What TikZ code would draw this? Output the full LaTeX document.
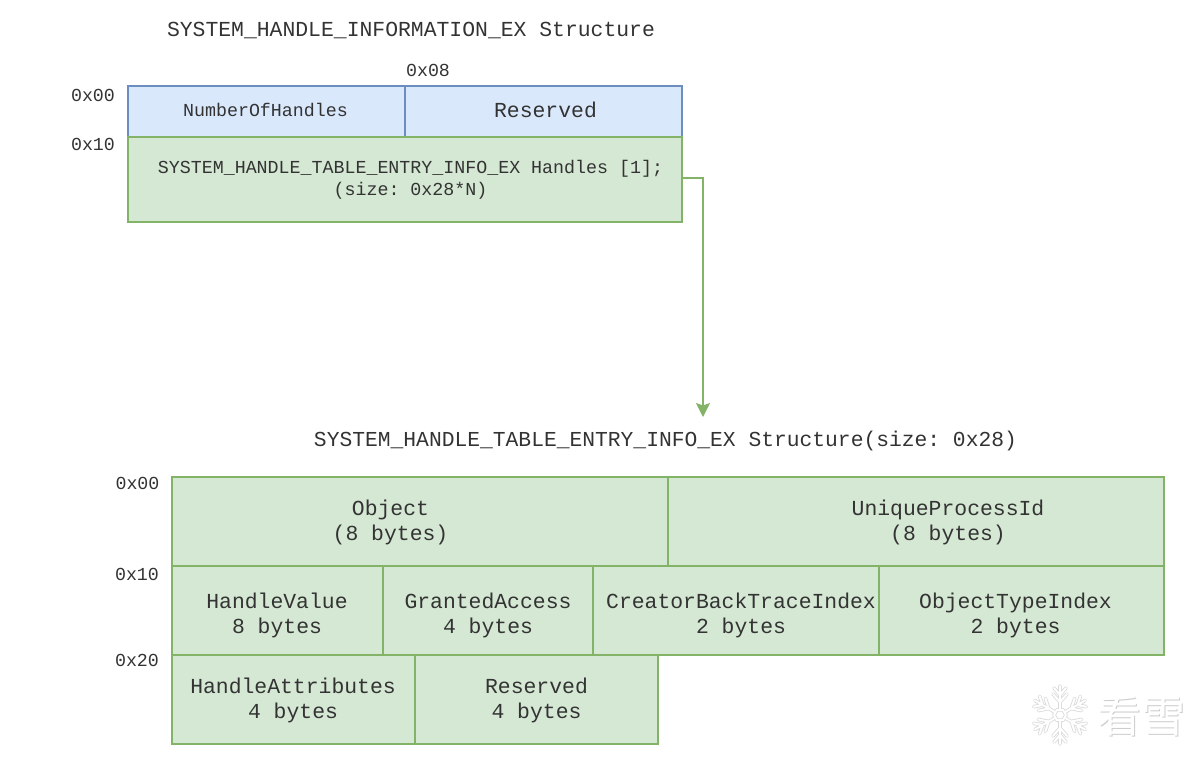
\documentclass[tikz,border=0pt]{standalone}
\usepackage{fontspec}
\setmonofont{Liberation Mono}
\newfontfamily\cjk{Noto Sans CJK SC}
\usetikzlibrary{arrows.meta, calc}

\begin{document}
\begin{tikzpicture}[x=1pt,y=-1pt,
  bigtxt/.style={font=\ttfamily\fontsize{21.4}{25}\selectfont,text=black!80},
  smalltxt/.style={font=\ttfamily\fontsize{18.3}{22}\selectfont,text=black!80},
  offset/.style={smalltxt,inner sep=0pt},
  cell/.style={draw,anchor=north west,inner sep=0pt,outer sep=0pt,line width=1.3pt,align=center},
  bluecell/.style={cell,draw=blueedge,fill=bluefill},
  greencell/.style={cell,draw=greenedge,fill=greenfill},
  celllabel/.style={align=center,inner sep=0pt},
  flake/.style={line cap=round,line join=round},
  >={Stealth[length=14pt,width=14pt,inset=2.5pt]}]
\definecolor{blueedge}{HTML}{6C8EBF}
\definecolor{bluefill}{HTML}{DAE8FC}
\definecolor{greenedge}{HTML}{82B366}
\definecolor{greenfill}{HTML}{D5E8D4}
\useasboundingbox (0,0) rectangle (1200,761);
% upper structure
\draw node [bigtxt] (TitleInfo) at (411,30) {SYSTEM\_HANDLE\_INFORMATION\_EX Structure};
\draw node [offset] (TopOff0) at (93,95) {0x00};
\draw node [offset] (TopOff8) at (428,70) {0x08};
\draw node [offset] (TopOff10) at (93,144) {0x10};
\draw node [bluecell,minimum width=277pt,minimum height=51pt,
  label={[celllabel,smalltxt,xshift=-1pt,yshift=2pt]center:{NumberOfHandles}}] (NumberOfHandles) at (128,86) {};
\draw node [bluecell,minimum width=277pt,minimum height=51pt,
  label={[celllabel,bigtxt,xshift=2pt,yshift=2pt]center:{Reserved}}] (ReservedTop) at (405,86) {};
\draw node [greencell,minimum width=554pt,minimum height=85pt,
  label={[celllabel,smalltxt,xshift=5.5pt,yshift=-0.5pt]center:{SYSTEM\_HANDLE\_TABLE\_ENTRY\_INFO\_EX Handles [1];\\(size: 0x28*N)}}] (Handles) at (128,137) {};
% lower structure
\draw node [bigtxt,font=\ttfamily\fontsize{21.3}{25}\selectfont] (TitleEntry) at (665.5,441) {SYSTEM\_HANDLE\_TABLE\_ENTRY\_INFO\_EX Structure(size: 0x28)};
\draw node [offset] (LowOff0) at (137.5,483) {0x00};
\draw node [offset] (LowOff10) at (137,574) {0x10};
\draw node [offset] (LowOff20) at (137,660) {0x20};
\draw node [greencell,minimum width=496pt,minimum height=89pt,
  label={[celllabel,bigtxt,xshift=-29.5pt,yshift=-1pt]center:{Object\\(8 bytes)}}] (Object) at (172,477) {};
\draw node [greencell,minimum width=496pt,minimum height=89pt,
  label={[celllabel,bigtxt,xshift=32pt,yshift=-1pt]center:{UniqueProcessId\\(8 bytes)}}] (UniqueProcessId) at (668,477) {};
\draw node [greencell,minimum width=211pt,minimum height=89pt,
  label={[celllabel,bigtxt,xshift=-0.5pt,yshift=-5pt]center:{HandleValue\\8 bytes}}] (HandleValue) at (172,566) {};
\draw node [greencell,minimum width=210pt,minimum height=89pt,
  label={[celllabel,bigtxt,yshift=-5pt]center:{GrantedAccess\\4 bytes}}] (GrantedAccess) at (383,566) {};
\draw node [greencell,minimum width=286pt,minimum height=89pt,
  label={[celllabel,bigtxt,xshift=5pt,yshift=-5pt]center:{CreatorBackTraceIndex\\2 bytes}}] (CreatorIndex) at (593,566) {};
\draw node [greencell,minimum width=285pt,minimum height=89pt,
  label={[celllabel,bigtxt,xshift=-6pt,yshift=-5pt]center:{ObjectTypeIndex\\2 bytes}}] (ObjectTypeIndex) at (879,566) {};
\draw node [greencell,minimum width=243pt,minimum height=89pt,
  label={[celllabel,bigtxt,xshift=-0.5pt,yshift=-1pt]center:{HandleAttributes\\4 bytes}}] (HandleAttributes) at (172,655) {};
\draw node [greencell,minimum width=243pt,minimum height=89pt,
  label={[celllabel,bigtxt,yshift=-1pt]center:{Reserved\\4 bytes}}] (ReservedLow) at (415,655) {};
% link
\coordinate (EntryIn) at (703,417);
\draw [->,draw=greenedge,line width=1.3pt] ([yshift=1.5pt]Handles.east) -| (EntryIn);
% watermark
\foreach \c/\w in {gray!30/3.6pt,white/2pt} {
  \foreach \a in {30,90,...,330} {
    \draw [flake,draw=\c,line width=\w,shift={(1060,715)},rotate=\a] (6,0) -- (29,0) (13,0) -- (21,7) (13,0) -- (21,-7) (20,0) -- (27,6) (20,0) -- (27,-6);
  }
  \draw [flake,draw=\c,line width=\w] (1060,715) ++(0:6) -- ++(120:6) -- ++(180:6) -- ++(240:6) -- ++(300:6) -- ++(0:6) -- cycle;
}
\draw node [gray!40,font=\cjk\fontsize{44}{44}\selectfont,inner sep=0pt] (WatermarkShade) at (1142,717) {看雪};
\draw node [white,font=\cjk\fontsize{44}{44}\selectfont,inner sep=0pt] (Watermark) at (1141,716) {看雪};
\end{tikzpicture}
\end{document}
